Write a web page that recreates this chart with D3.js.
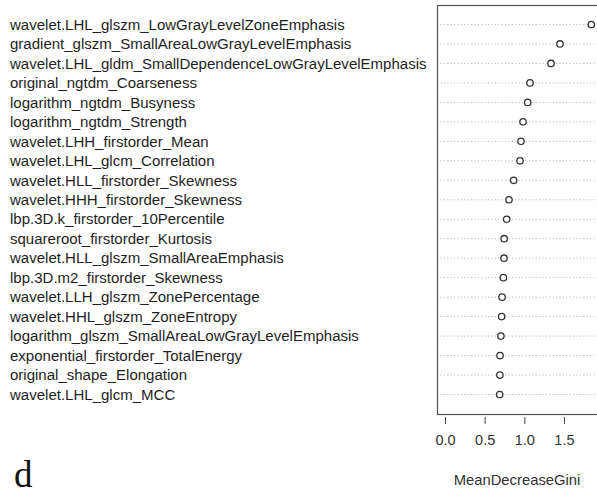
<!DOCTYPE html>
<html>
<head>
<meta charset="utf-8">
<script src="https://cdn.jsdelivr.net/npm/d3@7"></script>
<style>
  body { margin: 0; background: #fff; }
  svg text { font-family: "Liberation Sans", Arial, sans-serif; }
</style>
</head>
<body>
<svg id="chart" width="597" height="496"></svg>
<script>
// 变量名（从上到下）
const features = [
  "wavelet.LHL_glszm_LowGrayLevelZoneEmphasis",
  "gradient_glszm_SmallAreaLowGrayLevelEmphasis",
  "wavelet.LHL_gldm_SmallDependenceLowGrayLevelEmphasis",
  "original_ngtdm_Coarseness",
  "logarithm_ngtdm_Busyness",
  "logarithm_ngtdm_Strength",
  "wavelet.LHH_firstorder_Mean",
  "wavelet.LHL_glcm_Correlation",
  "wavelet.HLL_firstorder_Skewness",
  "wavelet.HHH_firstorder_Skewness",
  "lbp.3D.k_firstorder_10Percentile",
  "squareroot_firstorder_Kurtosis",
  "wavelet.HLL_glszm_SmallAreaEmphasis",
  "lbp.3D.m2_firstorder_Skewness",
  "wavelet.LLH_glszm_ZonePercentage",
  "wavelet.HHL_glszm_ZoneEntropy",
  "logarithm_glszm_SmallAreaLowGrayLevelEmphasis",
  "exponential_firstorder_TotalEnergy",
  "original_shape_Elongation",
  "wavelet.LHL_glcm_MCC"
];
// MeanDecreaseGini 数值
const giniValues = [
  1.845, 1.45, 1.337, 1.072, 1.043, 0.984, 0.958, 0.946, 0.866, 0.807,
  0.778, 0.746, 0.744, 0.736, 0.72, 0.714, 0.705, 0.694, 0.692, 0.69
];
const xTicks = [0, 0.5, 1.0, 1.5];
const xTitle = "MeanDecreaseGini";
const panelTag = "d";

const svg = d3.select("#chart");

// 绘图框
const box = { left: 437, right: 598, top: 5, bottom: 414 };

// x 比例尺：0 -> 445px, 1 单位约 79.3px
const x = d3.scaleLinear().domain([0, 1]).range([445, 524.3]);
const y = d3.scalePoint().domain(features).range([box.top, box.bottom]).padding(1);

// 点线
svg.append("g").selectAll("line")
  .data(features)
  .join("line")
  .attr("x1", box.left).attr("x2", box.right)
  .attr("y1", d => y(d)).attr("y2", d => y(d))
  .attr("stroke", "#b8b8b8")
  .attr("stroke-width", 1)
  .attr("stroke-dasharray", "1.2,2.2");

// 外框
svg.append("rect")
  .attr("x", box.left + 0.5).attr("y", box.top + 0.5)
  .attr("width", box.right - box.left).attr("height", box.bottom - box.top)
  .attr("fill", "none")
  .attr("stroke", "#555")
  .attr("stroke-width", 1.2);

// 空心圆点
svg.append("g").selectAll("circle")
  .data(features)
  .join("circle")
  .attr("cx", (d, i) => x(giniValues[i]))
  .attr("cy", d => y(d))
  .attr("r", 3.2)
  .attr("fill", "#fff")
  .attr("stroke", "#333")
  .attr("stroke-width", 1.3);

// 左侧标签，字号按最长标签宽度自适应
const labels = svg.append("g").selectAll("text")
  .data(features)
  .join("text")
  .attr("x", 10)
  .attr("y", d => y(d))
  .attr("dy", "0.35em")
  .attr("fill", "#1e1e1e")
  .style("font-size", "15px")
  .text(d => d);

let maxW = 0;
labels.each(function () { maxW = Math.max(maxW, this.getComputedTextLength()); });
const fitSize = 15 * 417 / maxW;
labels.style("font-size", fitSize + "px");

// x 轴
const axis = d3.axisBottom(x)
  .tickValues(xTicks)
  .tickFormat(d3.format(".1f"))
  .tickSize(7)
  .tickPadding(11);

const gx = svg.append("g")
  .attr("transform", `translate(0,${box.bottom + 3})`)
  .call(axis);
gx.select(".domain").remove();
gx.selectAll(".tick line").attr("stroke", "#444");
gx.selectAll(".tick text")
  .attr("fill", "#333")
  .style("font-size", "14.5px")
  .style("font-family", "'Liberation Sans', Arial, sans-serif");

// x 轴标题
svg.append("text")
  .attr("x", 517)
  .attr("y", 480)
  .attr("dy", "0.35em")
  .attr("text-anchor", "middle")
  .attr("fill", "#333")
  .style("font-size", "14.8px")
  .text(xTitle);

// 面板字母
svg.append("text")
  .attr("x", 14)
  .attr("y", 487)
  .attr("fill", "#111")
  .style("font-family", "'Liberation Serif', 'Times New Roman', serif")
  .style("font-size", "37px")
  .text(panelTag);
</script>
</body>
</html>
